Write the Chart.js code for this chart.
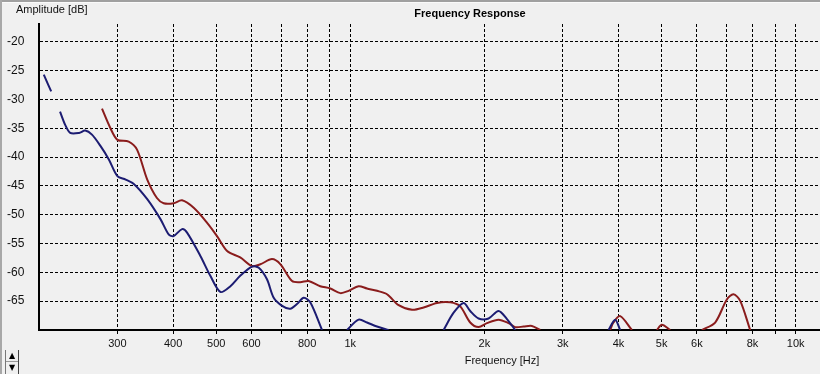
<!DOCTYPE html>
<html>
<head>
<meta charset="utf-8">
<script src="https://cdn.jsdelivr.net/npm/chart.js@4/dist/chart.umd.min.js"></script>
<style>
  html, body { margin: 0; padding: 0; background: #f0f0f0; overflow: hidden; width: 820px; height: 374px; }
  #wrap { position: absolute; left: 0; top: 0; width: 975px; height: 374px; }
  .edgeTop { position: absolute; left: 0; top: 0; width: 820px; height: 2px; background: #a0a0a0; }
  .edgeTop2 { position: absolute; left: 0; top: 2px; width: 820px; height: 1px; background: #fafafa; }
  .edgeLeft { position: absolute; left: 0; top: 0; width: 2px; height: 374px; background: #a8a8a8; }
  #spin { position: absolute; left: 5px; top: 350px; width: 12px; height: 24px; border-left: 1px solid #777; border-right: 1px solid #444;
          font-family: "DejaVu Sans", sans-serif; font-size: 8px; line-height: 11px; text-align: center; color: #000; }
  #spin div { height: 11px; border-bottom: 1px solid #999; }
</style>
</head>
<body>
<div id="wrap"><canvas id="c"></canvas></div>
<div class="edgeTop"></div><div class="edgeTop2"></div><div class="edgeLeft"></div>
<div id="spin"><div>▲</div><div style="border-bottom:none">▼</div></div>
<script>
// ---- data (Hz, dB); null = gap in the trace ----
const blueFreq = [205, 213, 218, 223, 229, 235, 246, 254, 263, 275, 287, 300, 313, 327, 350, 375, 391, 401, 419, 430, 461, 485, 511, 538, 566, 602, 623, 650, 673, 703, 733, 759, 786, 813, 864, 920, 983, 1044, 1090, 1148, 1219, 1400, 1620, 1706, 1796, 1859, 1941, 2044, 2152, 2248, 2346, 3000, 3799, 3933, 4036];
const blueDb   = [-25.7, -28.6, null, -32.1, -34.4, -35.8, -35.8, -35.4, -36.1, -38.1, -40.4, -43.3, -43.9, -44.7, -47.3, -50.8, -53.4, -53.7, -52.5, -53.1, -57.2, -60.6, -63.4, -62.4, -60.6, -59.0, -59.2, -61.2, -64.4, -65.8, -66.3, -65.5, -64.4, -65.2, -70, null, -70, -68.2, -68.7, -69.4, -70, null, -70, -67.0, -65.3, -66.7, -68.0, -68.0, -66.7, -68.1, -70, null, -70, -68.2, -70];

const redFreq = [277, 289, 300, 318, 332, 350, 368, 381, 401, 419, 445, 477, 502, 529, 566, 602, 628, 667, 697, 740, 772, 806, 856, 902, 950, 991, 1044, 1090, 1148, 1209, 1284, 1376, 1461, 1565, 1676, 1765, 1859, 1941, 2027, 2152, 2266, 2346, 2449, 2557, 2669, 3200, 3832, 3898, 4036, 4288, 4600, 4879, 5006, 5228, 5700, 6157, 6595, 7006, 7250, 7504, 7903];
const redDb   = [-31.6, -34.9, -37.0, -37.3, -38.7, -43.9, -47.1, -48.0, -48.0, -47.5, -48.8, -51.4, -53.7, -56.3, -57.4, -58.9, -58.6, -57.7, -58.6, -61.5, -61.7, -61.5, -62.4, -62.8, -63.6, -63.2, -62.4, -62.8, -63.2, -63.8, -65.7, -66.5, -66.1, -65.3, -65.2, -65.9, -68.7, -69.5, -68.8, -68.2, -68.8, -69.5, -69.4, -69.3, -70, null, -70, -68.7, -67.6, -70, null, -70, -69.1, -70, null, -70, -68.7, -64.7, -63.8, -64.9, -70];

// ---- axes ----
const xTickValues = [300, 400, 500, 600, 700, 800, 900, 1000, 2000, 3000, 4000, 5000, 6000, 7000, 8000, 9000, 10000, 20000];
const xTickLabels = ['300', '400', '500', '600', '', '800', '', '1k', '2k', '3k', '4k', '5k', '6k', '', '8k', '', '10k', ''];
const yTickValues = [-65, -60, -55, -50, -45, -40, -35, -30, -25, -20];
const xMin = 200, xMax = 24000, yMin = -70, yMax = -16.9;

const chartTitle = 'Frequency Response';
const yTitle = 'Amplitude [dB]';
const xTitle = 'Frequency [Hz]';

const toPts = (fs, ds) => fs.map((f, i) => ({ x: f, y: ds[i] }));

const textPlugin = {
  id: 'textPlugin',
  afterDraw(chart) {
    const ctx = chart.ctx;
    ctx.save();
    ctx.fillStyle = '#000';
    ctx.textBaseline = 'middle';
    ctx.font = 'bold 11px "Liberation Sans", Arial, sans-serif';
    ctx.textAlign = 'center';
    ctx.fillText(chartTitle, 470, 13.5);
    ctx.font = '11px "Liberation Sans", Arial, sans-serif';
    ctx.textAlign = 'left';
    ctx.fillStyle = '#111';
    ctx.fillText(yTitle, 16, 9.5);
    ctx.restore();
  }
};

const gridDash = [3, 2];

new Chart(document.getElementById('c'), {
  type: 'line',
  data: {
    datasets: [
      { label: 'blue', data: toPts(blueFreq, blueDb), borderColor: '#1c1c72', borderWidth: 2, pointRadius: 0, tension: 0.3, spanGaps: false },
      { label: 'red',  data: toPts(redFreq, redDb),  borderColor: '#8a1c1c', borderWidth: 2, pointRadius: 0, tension: 0.3, spanGaps: false }
    ]
  },
  options: {
    responsive: true,
    maintainAspectRatio: false,
    devicePixelRatio: 1,
    animation: false,
    events: [],
    layout: { padding: { left: 7, right: 10, top: 24, bottom: 2 } },
    plugins: { legend: { display: false }, title: { display: false }, tooltip: { enabled: false } },
    scales: {
      x: {
        type: 'logarithmic',
        position: 'bottom',
        min: xMin, max: xMax,
        afterBuildTicks: (s) => { s.ticks = xTickValues.map(v => ({ value: v })); },
        afterFit: (s) => { s.height = 42; },
        ticks: {
          autoSkip: false, maxRotation: 0, padding: 3,
          color: '#111',
          font: { family: '"Liberation Sans", Arial, sans-serif', size: 11 },
          callback: (v) => { const i = xTickValues.indexOf(v); return i >= 0 ? xTickLabels[i] : ''; }
        },
        grid: { color: '#000', lineWidth: 1, tickLength: 4, tickColor: '#000', tickBorderDash: [], tickWidth: 1, drawOnChartArea: true },
        border: { display: true, color: '#000', width: 2, dash: gridDash },
        title: { display: true, text: xTitle, color: '#111', padding: { top: 0, bottom: 4 },
                 font: { family: '"Liberation Sans", Arial, sans-serif', size: 11 } }
      },
      y: {
        type: 'linear',
        min: yMin, max: yMax,
        afterBuildTicks: (s) => { s.ticks = yTickValues.map(v => ({ value: v })); },
        afterFit: (s) => { s.width = 32; },
        ticks: {
          crossAlign: 'far', padding: 0,
          color: '#111',
          font: { family: '"Liberation Sans", Arial, sans-serif', size: 12 },
          callback: (v) => String(v)
        },
        grid: { color: '#000', lineWidth: 1, drawTicks: false },
        border: { display: true, color: '#000', width: 2, dash: gridDash }
      }
    }
  },
  plugins: [textPlugin]
});
</script>
</body>
</html>
